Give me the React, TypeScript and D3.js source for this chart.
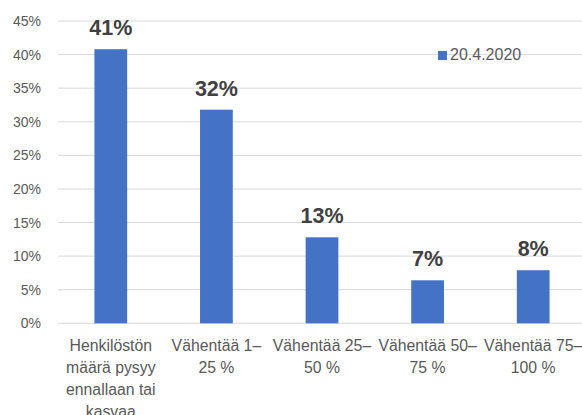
import React, {useRef, useEffect} from 'react'
import * as d3 from 'd3'

const categories = ['c1', 'c2', 'c3', 'c4', 'c5']
const categoryLines = [
  ['Henkilöstön', 'määrä pysyy', 'ennallaan tai', 'kasvaa'],
  ['Vähentää 1–', '25 %'],
  ['Vähentää 25–', '50 %'],
  ['Vähentää 50–', '75 %'],
  ['Vähentää 75–', '100 %']
]
const values = [0.408, 0.318, 0.128, 0.064, 0.079]
const valueLabels = ['41%', '32%', '13%', '7%', '8%']
const yTicks = [0, 0.05, 0.1, 0.15, 0.2, 0.25, 0.3, 0.35, 0.4, 0.45]
const seriesName = '20.4.2020'

function App() {
  const container = useRef<SVGGElement>(null)

  useEffect(() => {
    document.body.style.margin = '0'
    const g = d3.select(container.current)
    g.selectAll('*').remove()

    const left = 58
    const right = 586
    const top = 21
    const bottom = 323.3
    const font = '"Liberation Sans", Arial, sans-serif'

    const x = d3
      .scaleBand()
      .domain(categories)
      .range([left, right])
      .paddingInner(0.69)
      .paddingOuter(0.345)
    const y = d3.scaleLinear().domain([0, 0.45]).range([bottom, top])

    // gridlines
    g.selectAll('.grid')
      .data(yTicks)
      .enter()
      .append('line')
      .attr('x1', left)
      .attr('x2', 582)
      .attr('y1', d => y(d))
      .attr('y2', d => y(d))
      .attr('stroke', '#d9d9d9')
      .attr('stroke-width', 1)

    // y tick labels
    g.selectAll('.ytick')
      .data(yTicks)
      .enter()
      .append('text')
      .attr('x', 41)
      .attr('y', d => y(d) + 5)
      .attr('text-anchor', 'end')
      .attr('font-family', font)
      .attr('font-size', 14)
      .attr('fill', '#595959')
      .text(d => d3.format('.0%')(d))

    // bars
    g.selectAll('.bar')
      .data(values)
      .enter()
      .append('rect')
      .attr('x', (d, i) => x(categories[i]))
      .attr('y', d => y(d))
      .attr('width', x.bandwidth())
      .attr('height', d => bottom - y(d))
      .attr('fill', '#4472c4')

    // value labels
    g.selectAll('.vlabel')
      .data(values)
      .enter()
      .append('text')
      .attr('x', (d, i) => x(categories[i]) + x.bandwidth() / 2)
      .attr('y', d => y(d) - 14)
      .attr('text-anchor', 'middle')
      .attr('font-family', font)
      .attr('font-weight', 'bold')
      .attr('font-size', 21.5)
      .attr('fill', '#404040')
      .text((d, i) => valueLabels[i])

    // category labels
    categoryLines.forEach((lines, i) => {
      const t = g
        .append('text')
        .attr('text-anchor', 'middle')
        .attr('font-family', font)
        .attr('font-size', 15.8)
        .attr('fill', '#595959')
      lines.forEach((line, j) => {
        t.append('tspan')
          .attr('x', x(categories[i]) + x.bandwidth() / 2)
          .attr('y', 351 + j * 22)
          .text(line)
      })
    })

    // legend
    g.append('rect')
      .attr('x', 438)
      .attr('y', 51)
      .attr('width', 9)
      .attr('height', 9)
      .attr('fill', '#4472c4')
    g.append('text')
      .attr('x', 450)
      .attr('y', 60)
      .attr('font-family', font)
      .attr('font-size', 16)
      .attr('fill', '#595959')
      .text(seriesName)
  }, [])

  return (
    <svg width="582" height="415" style={{display: 'block', background: '#fff'}}>
      <g ref={container} />
    </svg>
  )
}

export default App
